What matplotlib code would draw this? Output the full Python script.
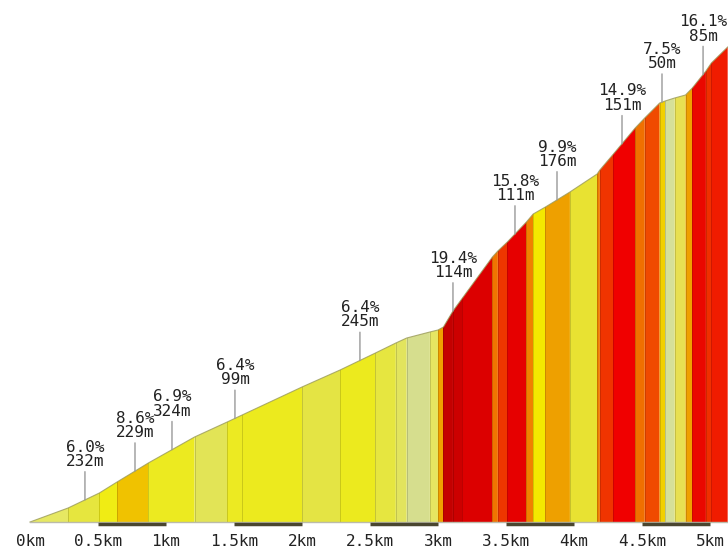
import numpy as np
from matplotlib import pyplot as plt
from matplotlib import colors as mcolors

# profile: distance (km) and height gained (m) at each segment edge
dist = [0.00, 0.28, 0.51, 0.64, 0.87, 1.21, 1.45, 1.56, 2.00, 2.28, 2.54, 2.69,
        2.77, 2.94, 3.00, 3.04, 3.11, 3.18, 3.40, 3.44, 3.51, 3.65, 3.70, 3.79,
        3.97, 4.17, 4.19, 4.29, 4.45, 4.52, 4.63, 4.67, 4.74, 4.82, 4.87, 4.97,
        5.01, 5.13]
elev = [0, 14, 29, 40, 59, 85, 100, 107, 135, 152, 169, 179,
        184, 190, 192, 195, 211, 224, 265, 271, 280, 300, 308, 315,
        330, 348, 352, 368, 394, 404, 419, 421, 424, 427, 434, 451,
        459, 475]
# colour of each segment (len(dist) - 1)
seg_colors = ['#e6e862', '#e6e63e', '#f0ec14', '#f0c200', '#ecea20', '#e2e456',
              '#ecea22', '#ecea1e', '#e4e444', '#ecea1e', '#e6e640', '#e2e45e',
              '#d6de8e', '#e6e662', '#f0a000', '#c40000', '#cc0000', '#dc0000',
              '#f07400', '#ee3600', '#e60000', '#f08000', '#f4e800', '#eea000',
              '#e8e232', '#f08000', '#f03400', '#f00000', '#f07000', '#f04a00',
              '#f2d000', '#d6e09a', '#e8e052', '#f0a000', '#ea0800', '#f03000',
              '#f01c00']

labels = ['6.0%\n232m', '8.6%\n229m', '6.9%\n324m', '6.4%\n99m', '6.4%\n245m',
          '19.4%\n114m', '15.8%\n111m', '9.9%\n176m', '14.9%\n151m', '7.5%\n50m',
          '16.1%\n85m']
label_km = [0.404, 0.772, 1.044, 1.507, 2.426, 3.110, 3.566, 3.875, 4.353,
            4.647, 4.949]

tick_km = [0, 0.5, 1, 1.5, 2, 2.5, 3, 3.5, 4, 4.5, 5]
tick_labels = ['0km', '0.5km', '1km', '1.5km', '2km', '2.5km', '3km', '3.5km',
               '4km', '4.5km', '5km']

fig = plt.figure(figsize=(7.28, 5.56), dpi=100)
ax = fig.add_axes([0, 0, 1, 1])
ax.set_xlim(-30 / 136, 698 / 136)
ax.set_ylim(-34, 522)
ax.axis('off')

for i in range(len(dist) - 1):
    c = seg_colors[i]
    dark = tuple(v * 0.85 for v in mcolors.to_rgb(c))
    ax.fill([dist[i], dist[i + 1], dist[i + 1], dist[i]],
            [0, 0, elev[i + 1], elev[i]], facecolor=c, edgecolor='none')
    if 0 < i:
        ax.plot([dist[i], dist[i]], [0, elev[i]], color=dark, lw=0.7)

ax.plot(dist, elev, color='#9a9a5a', lw=0.8, alpha=0.8)
ax.plot([0, dist[-1]], [0, 0], color='#bbbbaa', lw=1)

# dark bars under every other half kilometre
for k in tick_km[1::2]:
    ax.plot([k, k + 0.5], [-1.5, -1.5], color='#4a4630', lw=2.5, solid_capstyle='butt')

for k, t in zip(tick_km, tick_labels):
    ax.text(k, -19, t, ha='center', va='center', fontsize=11.5,
            family='DejaVu Sans Mono', color='#222222')

for k, t in zip(label_km, labels):
    y = np.interp(k, dist, elev)
    ax.annotate(t, xy=(k, y), xytext=(0, 31), textcoords='offset pixels',
                ha='center', va='bottom', fontsize=11.5, family='DejaVu Sans Mono',
                color='#222222', linespacing=0.95,
                arrowprops=dict(arrowstyle='-', color='#999999', lw=1,
                                shrinkA=0, shrinkB=0))

fig.savefig('out.png', dpi=100)
